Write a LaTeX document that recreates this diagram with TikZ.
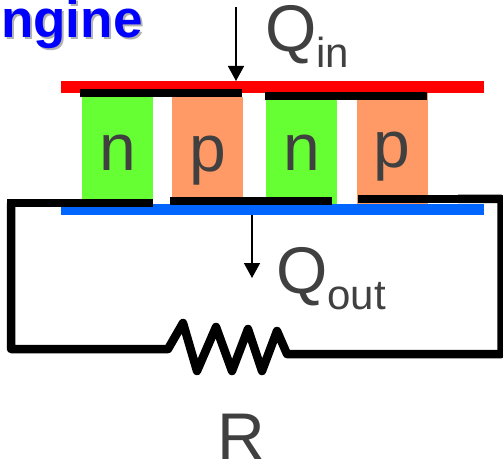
\documentclass[tikz,border=0pt]{standalone}
\usepackage{fontspec}
\setmainfont{Liberation Sans}
\usetikzlibrary{arrows.meta}
\definecolor{legn}{HTML}{66FF33}
\definecolor{legp}{HTML}{FF9966}
\definecolor{plateblue}{HTML}{0066FF}
\definecolor{labelgray}{HTML}{404040}
\newcommand{\bigsize}{\fontsize{66}{66}\selectfont}
\newcommand{\subsize}{\fontsize{42}{42}\selectfont}
\tikzset{
	block/.style={inner sep=0pt, outer sep=0pt, minimum width=71pt},
	plate/.style={inner sep=0pt, outer sep=0pt, minimum width=423pt, minimum height=12pt},
	bar/.style={fill=black, inner sep=0pt, outer sep=0pt, minimum height=8.5pt},
	wire/.style={line width=8.5pt, line join=round},
	heat/.style={line width=1.5pt, -{Triangle[length=15pt,width=16pt]}},
	letter/.style={inner sep=0pt, anchor=base, text=labelgray, font=\bigsize},
	title/.style={inner sep=0pt, anchor=base west, font=\fontsize{53}{53}\selectfont\bfseries}
}

\begin{document}
\begin{tikzpicture}[x=1pt,y=-1pt]
	\useasboundingbox (0,0) rectangle (503,465);
	% title
	\node[title, text=black!30] (titleshadow) at (3,40) {ngine};
	\node[title, text=blue] (title) at (1,38) {ngine};
	% plates
	\node[plate, fill=red] (hot) at (272.5,87) {};
	\node[plate, fill=plateblue, minimum height=11pt] (cold) at (272.5,209.5) {};
	% legs
	\node[block, fill=legn, minimum height=103pt] (n1) at (117.5,148.5) {};
	\node[block, fill=legp, minimum height=100pt] (p1) at (207.5,147) {};
	\node[block, fill=legn, minimum height=104pt] (n2) at (301.5,152) {};
	\node[block, fill=legp, minimum height=111pt] (p2) at (392,148.5) {};
	\node[letter] (ln1) at (117.5,171) {n};
	\node[letter] (lp1) at (207.5,172) {p};
	\node[letter] (ln2) at (301.5,171) {n};
	\node[letter] (lp2) at (392,168) {p};
	% contacts
	\node[bar, minimum width=162pt] (top1) at (161,93) {};
	\node[bar, minimum width=162pt] (top2) at (346,96) {};
	\node[bar, minimum width=146pt] (bot1) at (80,203) {};
	\node[bar, minimum width=162pt] (bot2) at (251,201) {};
	\node[bar, minimum width=100pt] (bot3) at (408,199) {};
	% circuit
	\coordinate (cl) at (11,349);
	\coordinate (r0) at (168,349);
	\coordinate (r1) at (183,323);
	\coordinate (r2) at (197,371);
	\coordinate (r3) at (216,327);
	\coordinate (r4) at (232,371);
	\coordinate (r5) at (248,329);
	\coordinate (r6) at (262,371);
	\coordinate (r7) at (277,331);
	\coordinate (r8) at (287,354);
	\coordinate (cr) at (501.5,354);
	\draw[wire] (cl |- bot1) -- (cl) -- (r0) -- (r1) -- (r2) -- (r3) -- (r4) -- (r5) -- (r6) -- (r7) -- (r8) -- (cr) -- (cr |- bot3) -- (bot3.east);
	% heat flow
	\coordinate (qin0) at (236,7);
	\coordinate (qout1) at (252,278);
	\draw[heat] (qin0) -- (qin0 |- hot.north);
	\draw[heat] (qout1 |- cold.south) -- (qout1);
	\node[letter, anchor=base west] (qin) at (265,52) {Q\raisebox{-16pt}{\subsize in}};
	\node[letter, anchor=base west] (qout) at (276,293) {Q\raisebox{-16pt}{\subsize out}};
	\node[letter] (rload) at (241,459) {R};
\end{tikzpicture}
\end{document}
